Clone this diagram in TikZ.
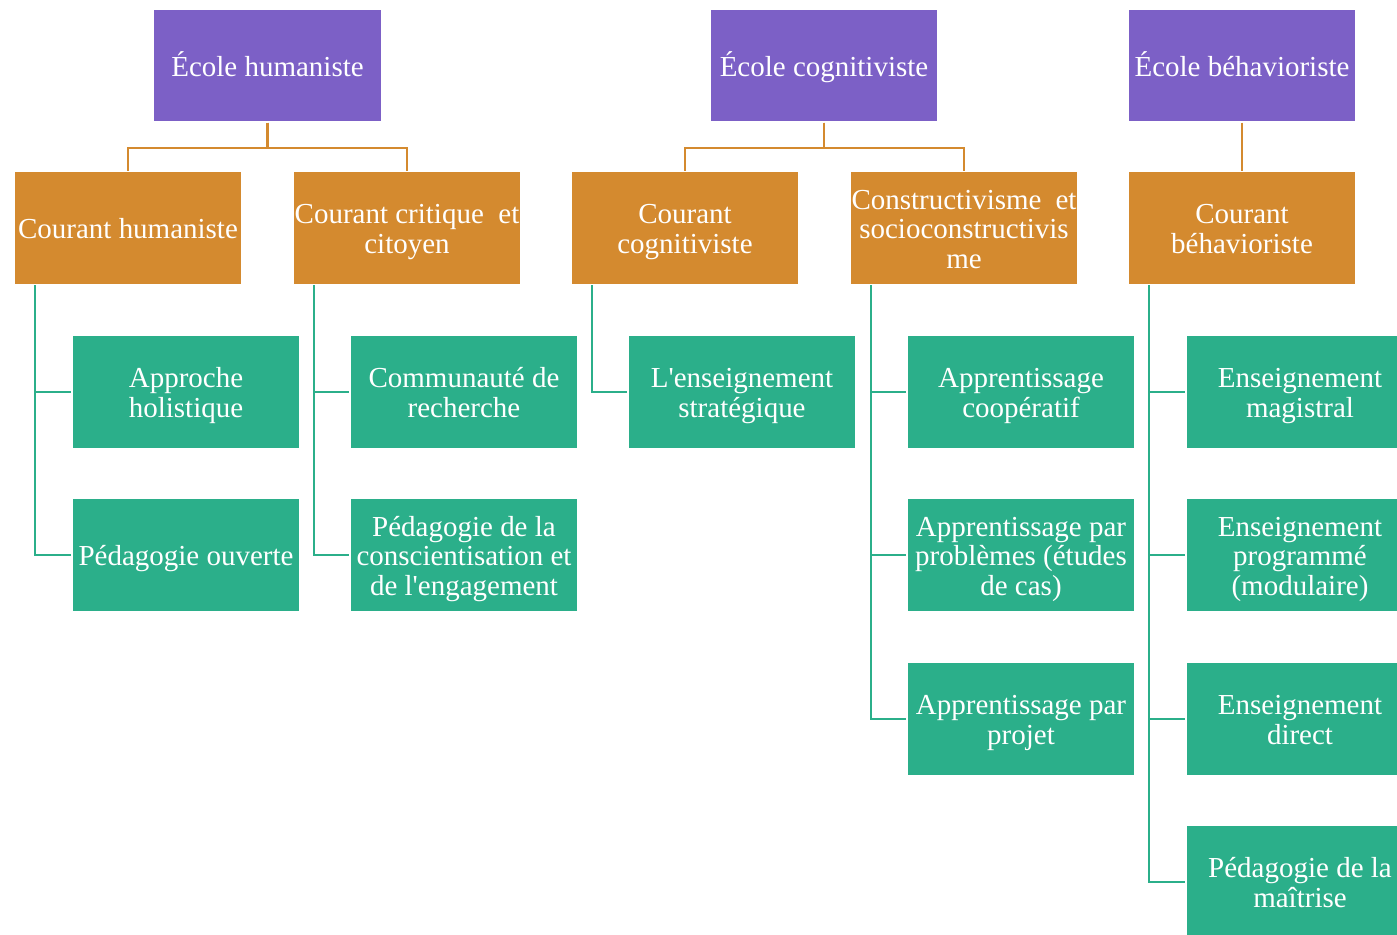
\documentclass[tikz,border=0pt]{standalone}
\usepackage{fontspec}
\setmainfont{Liberation Serif}[Ligatures=TeXOff]
\usepackage{tikz}
\usetikzlibrary{positioning}
\definecolor{violetE}{RGB}{124,96,198}
\definecolor{orangeC}{RGB}{212,138,47}
\definecolor{vertM}{RGB}{43,175,138}
\tikzset{
  ecole/.style={draw=white, line width=0.7pt, fill=violetE, text=white, minimum width=4.56cm, minimum height=2.26cm,
    text width=4.5cm, align=flush center, inner xsep=0pt, inner ysep=2pt,
    execute at begin node={\rule{0pt}{17.5pt}}, execute at end node=\strut},
  courant/.style={ecole, fill=orangeC},
  methode/.style={ecole, fill=vertM},
  lienO/.style={draw=orangeC, line width=1.2pt},
  lienV/.style={draw=vertM, line width=1.2pt},
}

\begin{document}
\begin{tikzpicture}[x=0.02cm, y=-0.02cm, font=\fontsize{16.5}{17}\selectfont]
\useasboundingbox (0,0) rectangle (1397,934);
\clip (0,0) rectangle (1397,934);

% ecoles
\node[ecole] (eh) at (267.5,65.5) {École humaniste};
\node[ecole] (ec) at (824,65.5) {École cognitiviste};
\node[ecole] (eb) at (1242,65.5) {École béhavioriste};

% courants
\node[courant] (ch) at (128,228) {Courant humaniste};
\node[courant] (cc) at (407,228) {Courant critique \ et\\citoyen};
\node[courant] (cg) at (685,228) {Courant\\cognitiviste};
\node[courant] (cs) at (964,228) {Constructivisme \ et\\socioconstructivis\\me};
\node[courant] (cb) at (1242,228) {Courant\\béhavioriste};

% methodes
\node[methode] (ah) at (186,392) {Approche\\holistique};
\node[methode] (po) at (186,555) {Pédagogie ouverte};
\node[methode] (cr) at (464,392) {Communauté de\\recherche};
\node[methode] (pc) at (464,555) {Pédagogie de la\\conscientisation et\\de l'engagement};
\node[methode] (es) at (742,392) {L'enseignement\\stratégique};
\node[methode] (ac) at (1021,392) {Apprentissage\\coopératif};
\node[methode] (ap) at (1021,555) {Apprentissage par\\problèmes (études\\de cas)};
\node[methode] (aj) at (1021,719) {Apprentissage par\\projet};
\node[methode] (em) at (1300,392) {Enseignement\\magistral};
\node[methode] (ep) at (1300,555) {Enseignement\\programmé\\(modulaire)};
\node[methode] (ed) at (1300,719) {Enseignement\\direct};
\node[methode] (pm) at (1300,882) {Pédagogie de la\\maîtrise};

% liens ecole -> courant
\draw[lienO] (eh.south) -- ++(0,25) -| (ch.north);
\draw[lienO] (eh.south) -- ++(0,25) -| (cc.north);
\draw[lienO] (ec.south) -- ++(0,25) -| (cg.north);
\draw[lienO] (ec.south) -- ++(0,25) -| (cs.north);
\draw[lienO] (eb.south) -- (cb.north);

% liens courant -> methode
\draw[lienV] ([xshift=0.44cm]ch.south west) |- (ah.west);
\draw[lienV] ([xshift=0.44cm]ch.south west) |- (po.west);
\draw[lienV] ([xshift=0.44cm]cc.south west) |- (cr.west);
\draw[lienV] ([xshift=0.44cm]cc.south west) |- (pc.west);
\draw[lienV] ([xshift=0.44cm]cg.south west) |- (es.west);
\draw[lienV] ([xshift=0.44cm]cs.south west) |- (ac.west);
\draw[lienV] ([xshift=0.44cm]cs.south west) |- (ap.west);
\draw[lienV] ([xshift=0.44cm]cs.south west) |- (aj.west);
\draw[lienV] ([xshift=0.44cm]cb.south west) |- (em.west);
\draw[lienV] ([xshift=0.44cm]cb.south west) |- (ep.west);
\draw[lienV] ([xshift=0.44cm]cb.south west) |- (ed.west);
\draw[lienV] ([xshift=0.44cm]cb.south west) |- (pm.west);

\end{tikzpicture}
\end{document}
